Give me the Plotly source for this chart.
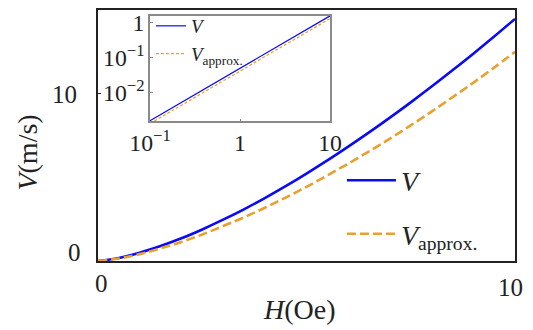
import plotly.graph_objects as go

# Main panel data (H in Oe, V in m/s)
H = [0, 0.5, 1, 1.5, 2, 2.5, 3, 3.5, 4, 4.5, 5, 5.5, 6, 6.5, 7, 7.5, 8, 8.5, 9, 9.5, 10]
V = [0, 0.18, 0.49, 0.89, 1.35, 1.88, 2.46, 3.08, 3.75, 4.46, 5.21, 5.99, 6.81, 7.66,
     8.54, 9.45, 10.39, 11.36, 12.35, 13.37, 14.42]
V_approx = [0, 0.15, 0.41, 0.75, 1.13, 1.58, 2.08, 2.60, 3.17, 3.78, 4.42, 5.10, 5.80,
            6.53, 7.29, 8.08, 8.90, 9.75, 10.62, 11.52, 12.46]

# Inset data (log-log)
H_in = [0.1, 0.2, 0.5, 1, 2, 5, 10]
V_in = [0.00162, 0.00455, 0.0178, 0.0501, 0.1406, 0.551, 1.547]
V_approx_in = [0.00134, 0.00378, 0.0148, 0.0416, 0.117, 0.458, 1.29]

main_xticks = [0, 10]
main_yticks = [0, 10]

BLUE = "#0a0af5"
ORANGE = "#e9a02c"
FONT = "Liberation Serif, DejaVu Serif, serif"

fig = go.Figure()
fig.add_trace(go.Scatter(x=H, y=V, mode="lines", name="<i>V</i>",
                         line=dict(color=BLUE, width=2.6, shape="spline"),
                         legendgroup="a", legend="legend"))
fig.add_trace(go.Scatter(x=H, y=V_approx, mode="lines", name="<i>V</i><sub>approx.</sub>",
                         line=dict(color=ORANGE, width=2.6, dash="9px,4px", shape="spline"),
                         legendgroup="b", legend="legend"))
fig.add_trace(go.Scatter(x=H_in, y=V_in, mode="lines", name="<i>V</i>",
                         line=dict(color=BLUE, width=1.2),
                         xaxis="x2", yaxis="y2", legend="legend2"))
fig.add_trace(go.Scatter(x=H_in, y=V_approx_in, mode="lines", name="<i>V</i><sub>approx.</sub>",
                         line=dict(color=ORANGE, width=1.2, dash="3px,2px"),
                         xaxis="x2", yaxis="y2", legend="legend2"))

annotations = []
# main tick labels
annotations.append(dict(x=0, y=main_yticks[1], xref="paper", yref="y", text=str(main_yticks[1]),
                        showarrow=False, xanchor="right", yanchor="middle", xshift=-19, yshift=-1,
                        font=dict(size=25, family=FONT, color="#222")))
annotations.append(dict(x=0, y=main_yticks[0], xref="paper", yref="y", text=str(main_yticks[0]),
                        showarrow=False, xanchor="right", yanchor="middle", xshift=-15, yshift=9,
                        font=dict(size=25, family=FONT, color="#222")))
annotations.append(dict(x=main_xticks[0], y=0, xref="x", yref="paper", text=str(main_xticks[0]),
                        showarrow=False, xanchor="center", yanchor="middle", xshift=3, yshift=-22,
                        font=dict(size=25, family=FONT, color="#222")))
annotations.append(dict(x=main_xticks[1], y=0, xref="x", yref="paper", text=str(main_xticks[1]),
                        showarrow=False, xanchor="center", yanchor="middle", xshift=-5, yshift=-26,
                        font=dict(size=25, family=FONT, color="#222")))
# axis titles
annotations.append(dict(x=0.484, y=0, xref="paper", yref="paper", text="<i>H</i>(Oe)",
                        showarrow=False, xanchor="center", yanchor="middle", yshift=-48,
                        font=dict(size=28, family=FONT, color="#222")))
annotations.append(dict(x=0, y=0.432, xref="paper", yref="paper", text="<i>V</i>(m/s)",
                        showarrow=False, xanchor="center", yanchor="middle", xshift=-70,
                        textangle=-90, font=dict(size=28, family=FONT, color="#222")))

fig.update_layout(
    width=533, height=330,
    margin=dict(l=98, r=18, t=4, b=69),
    paper_bgcolor="white", plot_bgcolor="white",
    font=dict(family=FONT, color="#222"),
    xaxis=dict(range=[0, 10], tickvals=main_xticks, showticklabels=False, ticks="inside",
               ticklen=3, tickcolor="#222", showgrid=False, zeroline=False,
               showline=True, mirror=True, linecolor="#222", linewidth=1.5),
    yaxis=dict(range=[0, 14.95], tickvals=main_yticks, showticklabels=False, ticks="inside",
               ticklen=3, tickcolor="#222", showgrid=False, zeroline=False,
               showline=True, mirror=True, linecolor="#222", linewidth=1.5),
    xaxis2=dict(type="log", range=[-1, 1], domain=[0.1247, 0.5564], anchor="y2",
                dtick=1, exponentformat="power", ticks="inside", ticklen=3, tickcolor="#888",
                showgrid=False, zeroline=False, showline=True, mirror=True,
                linecolor="#8a8a8a", linewidth=1.5, tickfont=dict(size=19, family=FONT, color="#222")),
    yaxis2=dict(type="log", range=[-2.81, 0.19], domain=[0.5564, 0.9767], anchor="x2",
                dtick=1, exponentformat="power", ticks="inside", ticklen=3, tickcolor="#888",
                showgrid=False, zeroline=False, showline=True, mirror=True,
                linecolor="#8a8a8a", linewidth=1.5, tickfont=dict(size=19, family=FONT, color="#222")),
    legend=dict(x=0.585, y=0.42, xanchor="left", yanchor="top", bgcolor="rgba(0,0,0,0)",
                font=dict(size=28, family=FONT, color="#222"), itemwidth=49,
                tracegroupgap=14),
    legend2=dict(x=0.127, y=1.012, xanchor="left", yanchor="top", bgcolor="rgba(0,0,0,0)",
                 font=dict(size=19, family=FONT, color="#222"), itemwidth=30,
                 tracegroupgap=0),
    annotations=annotations,
    showlegend=True,
)

fig.write_html("out.html", config={"displayModeBar": False},
               post_script="document.body.style.margin='0';document.body.style.padding='0';")
